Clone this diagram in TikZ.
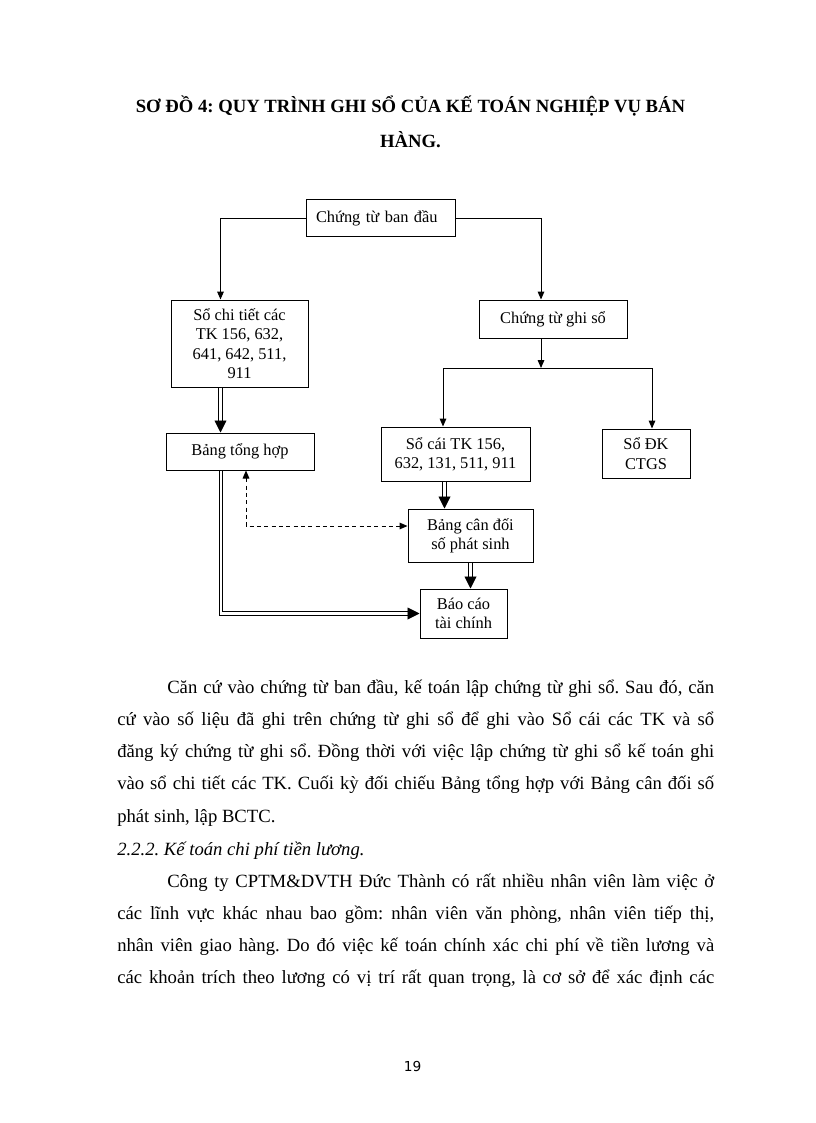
\documentclass[tikz,border=0pt]{standalone}
\usepackage{fontspec}
\setmainfont{Liberation Serif}
\newfontfamily\pagefont{DejaVu Sans}
\usetikzlibrary{arrows.meta}
\newcommand\pxu{0.75pt}

\begin{document}
\frenchspacing
\begin{tikzpicture}[x=0.75pt, y=-0.75pt,
    box/.style={draw, line width=0.75pt, align=center, inner sep=1pt, font=\fontsize{12.3}{14.5}\selectfont},
    arr/.style={line width=0.75pt, -{Triangle[length=6pt,width=5pt]}},
    dbl/.style={line width=0.7pt, double, double distance=2.2pt, -{Triangle[length=9pt,width=9pt]}},
    dashArr/.style={line width=0.75pt, dash pattern=on 3pt off 2.5pt, {Triangle[length=6pt,width=5pt]}-{Triangle[length=6pt,width=5pt]}},
    titleText/.style={anchor=base, inner sep=0pt, font={\fontsize{14}{16}\selectfont\bfseries}},
    bodyText/.style={anchor=base west, inner sep=0pt, text width=447.75pt, align=justify, font=\fontsize{14}{24.2}\selectfont}]
  \useasboundingbox (0,0) rectangle (816,1123);

  \node[titleText] (title1) at (410.5,112.3) {SƠ ĐỒ 4: QUY TRÌNH GHI SỔ CỦA KẾ TOÁN NGHIỆP VỤ BÁN};
  \node[titleText] (title2) at (410.5,148) {HÀNG.};

  \node[box, minimum width=149*\pxu, minimum height=37*\pxu, text width=129*\pxu, inner xsep=10*\pxu, align=left] (ctbd) at (380.5,218.5) {Chứng từ ban đầu};
  \node[box, minimum width=137*\pxu, minimum height=87*\pxu] (sct) at (239.5,343.5) {Sổ chi tiết các\\TK 156, 632,\\641, 642, 511,\\911};
  \node[box, minimum width=148*\pxu, minimum height=38*\pxu] (ctgs) at (553,319) {Chứng từ ghi sổ};
  \node[box, minimum width=148*\pxu, minimum height=37*\pxu] (bth) at (240,451.5) {Bảng tổng hợp};
  \node[box, minimum width=149*\pxu, minimum height=54*\pxu] (soCai) at (455.5,454) {Sổ cái TK 156,\\632, 131, 511, 911};
  \node[box, minimum width=88*\pxu, minimum height=49*\pxu] (soDK) at (646,453.5) {Sổ ĐK\\CTGS};
  \node[box, minimum width=125*\pxu, minimum height=53*\pxu] (bcd) at (470.5,535.5) {Bảng cân đối\\số phát sinh};
  \node[box, minimum width=87*\pxu, minimum height=49*\pxu] (bctc) at (463.5,613.5) {Báo cáo\\tài chính};
  \coordinate (split) at (541,368);

  \draw[arr] (ctbd.west) -| ([xshift=-19*\pxu]sct.north);
  \draw[arr] (ctbd.east) -| ([xshift=-12*\pxu]ctgs.north);
  \draw[arr] ([xshift=-12*\pxu]ctgs.south) -- (split);
  \draw[arr] (split) -| ([xshift=-12.5*\pxu]soCai.north);
  \draw[arr] (split) -| ([xshift=6*\pxu]soDK.north);
  \draw[dbl] ([xshift=-19*\pxu]sct.south) -- ([xshift=-19*\pxu]sct.south |- bth.north);
  \draw[dbl] ([xshift=-11*\pxu]soCai.south) -- ([xshift=-11*\pxu]soCai.south |- bcd.north);
  \draw[dbl] (bcd.south) -- (bcd.south |- bctc.north);
  \draw[dbl] ([xshift=-19*\pxu]bth.south) |- (bctc.west);
  \draw[dashArr] ([xshift=6*\pxu]bth.south) |- ([yshift=9.5*\pxu]bcd.west);

  \node[bodyText] (para1) at (117,693) {\hspace*{37.5pt}Căn cứ vào chứng từ ban đầu, kế toán lập chứng từ ghi sổ. Sau đó, căn\linebreak
    cứ vào số liệu đã ghi trên chứng từ ghi sổ để ghi vào Sổ cái các TK và sổ\linebreak
    đăng ký chứng từ ghi sổ. Đồng thời với việc lập chứng từ ghi sổ kế toán ghi\linebreak
    vào sổ chi tiết các TK. Cuối kỳ đối chiếu Bảng tổng hợp với Bảng cân đối số\linebreak
    phát sinh, lập BCTC.};
  \node[anchor=base west, inner sep=0pt, font={\fontsize{14}{16}\selectfont\itshape}] (heading) at (117,855) {2.2.2. Kế toán chi phí tiền lương.};
  \node[bodyText] (para2) at (117,887) {\parfillskip=0pt\relax\hspace*{37.5pt}Công ty CPTM\&DVTH Đức Thành có rất nhiều nhân viên làm việc ở\linebreak
    các lĩnh vực khác nhau bao gồm: nhân viên văn phòng, nhân viên tiếp thị,\linebreak
    nhân viên giao hàng. Do đó việc kế toán chính xác chi phí về tiền lương và\linebreak
    các khoản trích theo lương có vị trí rất quan trọng, là cơ sở để xác định các\par};

  \node[anchor=base, inner sep=0pt, font={\pagefont\fontsize{10.3}{12}\selectfont}] (pageNo) at (412.7,1071.7) {19};
\end{tikzpicture}
\end{document}
